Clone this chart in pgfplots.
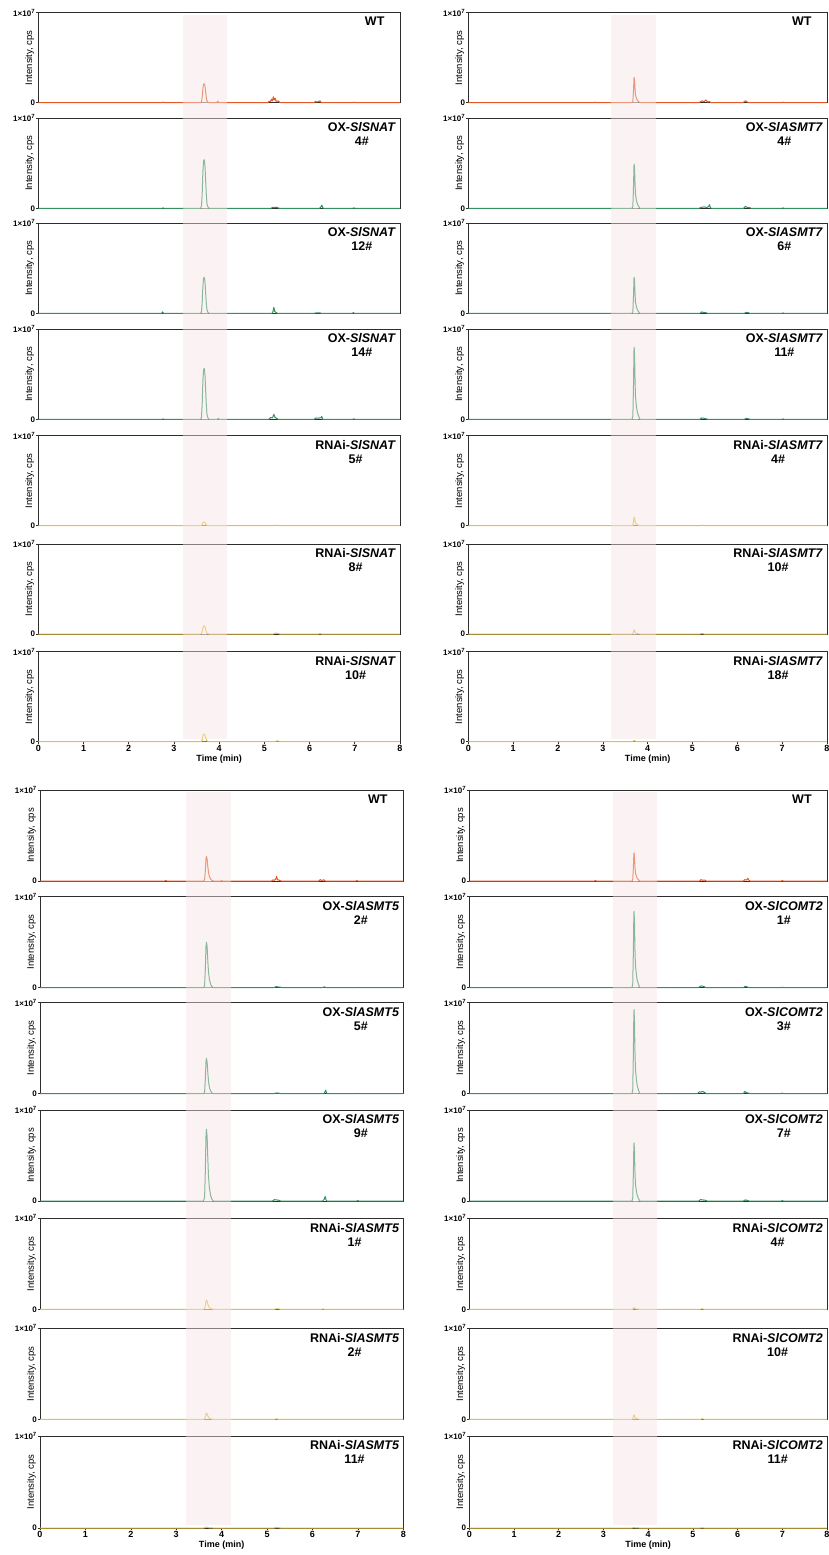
\documentclass[border=0pt]{standalone}
\usepackage{fontspec}
\setmainfont{Liberation Sans}
\usepackage{pgfplots}
\pgfplotsset{compat=1.18}
\definecolor{cor}{RGB}{228,88,38}
\definecolor{cgr}{RGB}{50,145,95}
\definecolor{cye}{RGB}{232,190,60}
\definecolor{shadec}{RGB}{246,228,228}
\definecolor{framec}{RGB}{45,45,45}
\pgfplotsset{
  chrom/.style={scale only axis, anchor=north west,
    xmin=0, xmax=8, ymin=0, ymax=1, clip=false,
    axis line style={line width=0.9pt, draw=framec},
    ytick={0,1}, yticklabels={0,{1×10\textsuperscript{7}}},
    xtick=\empty, xtick pos=bottom, ytick pos=left,
    tick align=outside, major tick length=2pt,
    tick style={line width=0.6pt, draw=framec},
    yticklabel style={font=\fontsize{8}{9}\selectfont\bfseries, inner sep=1pt},
    ylabel={Intensity, cps},
    ylabel style={font=\fontsize{9.5}{10}\selectfont, at={(axis description cs:-0.011,0.5)}, anchor=south, inner sep=0pt},
    /pgf/number format/assume math mode=true,
  },
  lastp/.style={xtick={0,1,...,8}, xticklabels={0,1,2,3,4,5,6,7,8},
    xticklabel style={font=\fontsize{9}{10}\selectfont\bfseries, inner sep=1pt},
    xlabel={Time (min)}, xlabel style={font=\fontsize{9}{10}\selectfont\bfseries, inner sep=2pt}},
  tr/.style={line width=1pt, line join=round},
  ib/.style={line width=1pt, black!55},
}
\tikzset{plab/.style={font=\fontsize{12.5}{14}\selectfont\bfseries, align=center, anchor=north, inner sep=0pt}}
\newcommand{\plabel}[1]{\node[plab, anchor=north east] at ([xshift=-4pt]rel axis cs:1,0.951) {#1};}
\newcommand{\wtlabel}{\node[plab] at (rel axis cs:0.93,0.951) {WT};}
\begin{document}
\begin{tikzpicture}
\path[use as bounding box] (0,0) rectangle (828pt,-1555pt);
% ================= TOP LEFT =================
\begin{axis}[chrom, at={(38.3pt,-12.7pt)}, width=361.7pt, height=90pt]
\addplot[tr, cor] coordinates {(0,0)(2.74,0)(2.76,0.006)(2.78,0)(3.59,0)(3.61,0.0105)(3.625,0.063)(3.64,0.158)(3.655,0.204)(3.67,0.21)(3.685,0.189)(3.70,0.126)(3.715,0.063)(3.73,0.021)(3.75,0.006)(3.78,0)(3.95,0)(3.97,0.018)(3.99,0)(5.08,0)(5.1,0.015)(5.13,0.01)(5.16,0.04)(5.18,0.02)(5.2,0.065)(5.22,0.03)(5.24,0.05)(5.26,0.015)(5.3,0.02)(5.34,0.005)(5.37,0)(6.1,0)(6.13,0.015)(6.16,0.008)(6.2,0.012)(6.23,0.022)(6.26,0)(6.96,0)(6.98,0.006)(7.0,0)(8,0)};
\addplot[ib] coordinates {(3.61,0)(3.75,0)};
\wtlabel
\end{axis}
\begin{axis}[chrom, at={(38.3pt,-118.3pt)}, width=361.7pt, height=90pt]
\addplot[tr, cgr] coordinates {(0,0)(2.74,0)(2.76,0.004)(2.78,0)(3.59,0)(3.61,0.027)(3.625,0.162)(3.64,0.405)(3.655,0.524)(3.67,0.54)(3.685,0.486)(3.70,0.324)(3.715,0.162)(3.73,0.054)(3.75,0.016)(3.78,0)(5.15,0)(5.18,0.01)(5.22,0.008)(5.26,0.012)(5.3,0.006)(5.33,0)(6.22,0)(6.25,0.015)(6.27,0.035)(6.29,0.01)(6.31,0)(6.96,0)(6.98,0.006)(7.0,0)(8,0)};
\addplot[ib] coordinates {(3.61,0)(3.75,0)};
\plabel{OX-\textit{SlSNAT}\\4\#}
\end{axis}
\begin{axis}[chrom, at={(38.3pt,-223.3pt)}, width=361.7pt, height=90pt]
\addplot[tr, cgr] coordinates {(0,0)(2.73,0)(2.75,0.016)(2.77,0)(3.59,0)(3.61,0.02)(3.625,0.12)(3.64,0.30)(3.655,0.388)(3.67,0.40)(3.685,0.36)(3.70,0.24)(3.715,0.12)(3.73,0.04)(3.75,0.012)(3.78,0)(5.17,0)(5.19,0.02)(5.21,0.067)(5.23,0.02)(5.26,0.008)(5.29,0)(6.1,0)(6.15,0.005)(6.22,0.006)(6.26,0)(6.95,0)(6.97,0.008)(6.99,0)(8,0)};
\addplot[ib] coordinates {(3.61,0)(3.75,0)};
\plabel{OX-\textit{SlSNAT}\\12\#}
\end{axis}
\begin{axis}[chrom, at={(38.3pt,-329.3pt)}, width=361.7pt, height=90pt]
\addplot[tr, cgr] coordinates {(0,0)(2.74,0)(2.76,0.004)(2.78,0)(3.59,0)(3.61,0.028)(3.625,0.17)(3.64,0.425)(3.655,0.549)(3.67,0.566)(3.685,0.509)(3.70,0.34)(3.715,0.17)(3.73,0.057)(3.75,0.017)(3.78,0)(3.96,0)(3.98,0.01)(4.0,0)(5.1,0)(5.14,0.02)(5.18,0.015)(5.21,0.055)(5.23,0.025)(5.27,0.01)(5.31,0)(6.1,0)(6.14,0.015)(6.2,0.012)(6.25,0.018)(6.27,0.03)(6.29,0)(6.96,0)(6.98,0.005)(7.0,0)(8,0)};
\addplot[ib] coordinates {(3.61,0)(3.75,0)};
\plabel{OX-\textit{SlSNAT}\\14\#}
\end{axis}
\begin{axis}[chrom, at={(38.3pt,-435.7pt)}, width=361.7pt, height=90pt]
\addplot[tr, cye] coordinates {(0,0)(3.59,0)(3.61,0.002)(3.625,0.012)(3.64,0.03)(3.655,0.039)(3.67,0.04)(3.685,0.036)(3.70,0.024)(3.715,0.012)(3.73,0.004)(3.75,0.001)(3.78,0)(5.18,0)(5.22,0.005)(5.28,0.004)(5.32,0)(6.2,0)(6.22,0.003)(6.24,0)(8,0)};
\addplot[ib] coordinates {(3.63,0)(3.72,0)};
\plabel{RNAi-\textit{SlSNAT}\\5\#}
\end{axis}
\begin{axis}[chrom, at={(38.3pt,-544pt)}, width=361.7pt, height=90pt]
\addplot[tr, cye] coordinates {(0,0)(3.59,0)(3.61,0.0045)(3.625,0.027)(3.64,0.068)(3.655,0.087)(3.67,0.09)(3.685,0.081)(3.70,0.054)(3.715,0.027)(3.73,0.009)(3.75,0.003)(3.78,0)(5.2,0)(5.25,0.01)(5.3,0.006)(5.34,0)(6.2,0)(6.23,0.004)(6.26,0)(8,0)};
\addplot[ib] coordinates {(3.62,0)(3.73,0)};
\plabel{RNAi-\textit{SlSNAT}\\8\#}
\end{axis}
\begin{axis}[chrom, lastp, at={(38.3pt,-651.7pt)}, width=361.7pt, height=90pt]
\addplot[tr, cye] coordinates {(0,0)(3.59,0)(3.61,0.004)(3.625,0.026)(3.64,0.064)(3.655,0.082)(3.67,0.085)(3.685,0.077)(3.70,0.051)(3.715,0.026)(3.73,0.0085)(3.75,0.003)(3.78,0)(5.22,0)(5.28,0.008)(5.34,0.004)(5.38,0)(8,0)};
\addplot[ib] coordinates {(3.62,0)(3.73,0)};
\plabel{RNAi-\textit{SlSNAT}\\10\#}
\fill[shadec, opacity=0.45] (axis cs:3.2,0.03) rectangle (axis cs:4.18,8.08);
\end{axis}
% ================= TOP RIGHT =================
\begin{axis}[chrom, at={(468.3pt,-12.7pt)}, width=358.7pt, height=90pt]
\addplot[tr, cor] coordinates {(0,0)(2.81,0)(2.83,0.006)(2.85,0)(3.65,0)(3.67,0.011)(3.685,0.14)(3.695,0.266)(3.70,0.28)(3.71,0.238)(3.72,0.14)(3.73,0.084)(3.75,0.05)(3.77,0.028)(3.80,0.011)(3.83,0)(5.15,0)(5.18,0.012)(5.22,0.02)(5.26,0.01)(5.3,0.03)(5.34,0.008)(5.38,0.012)(5.41,0)(6.13,0)(6.16,0.015)(6.19,0.02)(6.22,0.008)(6.25,0)(7.0,0)(7.02,0.006)(7.04,0)(8,0)};
\addplot[ib] coordinates {(3.67,0)(3.79,0)};
\wtlabel
\end{axis}
\begin{axis}[chrom, at={(468.3pt,-118.3pt)}, width=358.7pt, height=90pt]
\addplot[tr, cgr] coordinates {(0,0)(3.65,0)(3.67,0.02)(3.685,0.245)(3.695,0.466)(3.70,0.49)(3.71,0.417)(3.72,0.245)(3.73,0.147)(3.75,0.088)(3.77,0.049)(3.80,0.02)(3.83,0)(5.15,0)(5.2,0.012)(5.26,0.015)(5.32,0.01)(5.36,0.02)(5.38,0.04)(5.4,0.005)(5.43,0)(6.14,0)(6.18,0.02)(6.22,0.01)(6.28,0.006)(6.31,0)(7.0,0)(7.02,0.005)(7.04,0)(8,0)};
\addplot[ib] coordinates {(3.67,0)(3.79,0)};
\plabel{OX-\textit{SlASMT7}\\4\#}
\end{axis}
\begin{axis}[chrom, at={(468.3pt,-223.3pt)}, width=358.7pt, height=90pt]
\addplot[tr, cgr] coordinates {(0,0)(3.65,0)(3.67,0.016)(3.685,0.2)(3.695,0.38)(3.70,0.40)(3.71,0.34)(3.72,0.2)(3.73,0.12)(3.75,0.072)(3.77,0.04)(3.80,0.016)(3.83,0)(5.17,0)(5.2,0.015)(5.25,0.01)(5.3,0.006)(5.34,0)(6.16,0)(6.2,0.01)(6.25,0.006)(6.28,0)(7.0,0)(7.02,0.004)(7.04,0)(8,0)};
\addplot[ib] coordinates {(3.67,0)(3.79,0)};
\plabel{OX-\textit{SlASMT7}\\6\#}
\end{axis}
\begin{axis}[chrom, at={(468.3pt,-329.3pt)}, width=358.7pt, height=90pt]
\addplot[tr, cgr] coordinates {(0,0)(3.65,0)(3.67,0.032)(3.685,0.4)(3.695,0.76)(3.70,0.80)(3.71,0.68)(3.72,0.4)(3.73,0.24)(3.75,0.144)(3.77,0.08)(3.80,0.032)(3.83,0)(5.17,0)(5.2,0.015)(5.25,0.012)(5.3,0.006)(5.34,0)(6.16,0)(6.2,0.01)(6.25,0.005)(6.28,0)(7.0,0)(7.02,0.004)(7.04,0)(8,0)};
\addplot[ib] coordinates {(3.67,0)(3.79,0)};
\plabel{OX-\textit{SlASMT7}\\11\#}
\end{axis}
\begin{axis}[chrom, at={(468.3pt,-435.7pt)}, width=358.7pt, height=90pt]
\addplot[tr, cye] coordinates {(0,0)(3.65,0)(3.67,0.004)(3.685,0.048)(3.695,0.091)(3.70,0.096)(3.71,0.082)(3.72,0.048)(3.73,0.029)(3.75,0.017)(3.77,0.01)(3.80,0.004)(3.83,0)(5.17,0)(5.2,0.005)(5.25,0.003)(5.3,0)(8,0)};
\addplot[ib] coordinates {(3.68,0)(3.77,0)};
\plabel{RNAi-\textit{SlASMT7}\\4\#}
\end{axis}
\begin{axis}[chrom, at={(468.3pt,-544pt)}, width=358.7pt, height=90pt]
\addplot[tr, cye] coordinates {(0,0)(3.65,0)(3.67,0.002)(3.685,0.022)(3.695,0.043)(3.70,0.045)(3.71,0.038)(3.72,0.022)(3.73,0.014)(3.75,0.008)(3.77,0.0045)(3.80,0.002)(3.83,0)(5.17,0)(5.21,0.006)(5.26,0)(8,0)};
\addplot[ib] coordinates {(3.68,0)(3.77,0)};
\plabel{RNAi-\textit{SlASMT7}\\10\#}
\end{axis}
\begin{axis}[chrom, lastp, at={(468.3pt,-651.7pt)}, width=358.7pt, height=90pt]
\addplot[tr, cye] coordinates {(0,0)(3.65,0)(3.685,0.006)(3.695,0.011)(3.70,0.012)(3.71,0.01)(3.72,0.006)(3.73,0.004)(3.75,0.002)(3.77,0.001)(3.83,0)(5.17,0)(5.21,0.004)(5.26,0)(8,0)};
\plabel{RNAi-\textit{SlASMT7}\\18\#}
\fill[shadec, opacity=0.45] (axis cs:3.18,0.03) rectangle (axis cs:4.18,8.08);
\end{axis}
% ================= BOTTOM LEFT =================
\begin{axis}[chrom, at={(40pt,-790pt)}, width=363.3pt, height=91pt]
\addplot[tr, cor] coordinates {(0,0)(2.75,0)(2.77,0.006)(2.79,0)(3.60,0)(3.625,0.0135)(3.64,0.108)(3.655,0.243)(3.665,0.27)(3.68,0.243)(3.695,0.162)(3.71,0.095)(3.73,0.049)(3.76,0.019)(3.79,0.005)(3.82,0)(3.98,0)(4.0,0.005)(4.02,0)(5.1,0)(5.13,0.012)(5.16,0.008)(5.19,0.02)(5.21,0.05)(5.23,0.015)(5.27,0.008)(5.31,0)(6.14,0)(6.17,0.015)(6.2,0.006)(6.25,0.013)(6.28,0)(6.96,0)(6.98,0.005)(7.0,0)(8,0)};
\addplot[ib] coordinates {(3.62,0)(3.78,0)};
\wtlabel
\end{axis}
\begin{axis}[chrom, at={(40pt,-896.7pt)}, width=363.3pt, height=91pt]
\addplot[tr, cgr] coordinates {(0,0)(3.60,0)(3.625,0.025)(3.64,0.2)(3.655,0.45)(3.665,0.5)(3.68,0.45)(3.695,0.3)(3.71,0.175)(3.73,0.09)(3.76,0.035)(3.79,0.01)(3.82,0)(5.15,0)(5.2,0.012)(5.25,0.008)(5.3,0.005)(5.33,0)(6.22,0)(6.26,0.01)(6.3,0)(6.98,0)(7.0,0.005)(7.02,0)(8,0)};
\addplot[ib] coordinates {(3.62,0)(3.78,0)};
\plabel{OX-\textit{SlASMT5}\\2\#}
\end{axis}
\begin{axis}[chrom, at={(40pt,-1002.7pt)}, width=363.3pt, height=91pt]
\addplot[tr, cgr] coordinates {(0,0)(3.60,0)(3.625,0.0195)(3.64,0.156)(3.655,0.351)(3.665,0.39)(3.68,0.351)(3.695,0.234)(3.71,0.137)(3.73,0.07)(3.76,0.027)(3.79,0.008)(3.82,0)(5.15,0)(5.2,0.008)(5.26,0.006)(5.3,0)(6.25,0)(6.27,0.015)(6.29,0.04)(6.31,0.01)(6.33,0)(6.98,0)(7.0,0.005)(7.02,0)(8,0)};
\addplot[ib] coordinates {(3.62,0)(3.78,0)};
\plabel{OX-\textit{SlASMT5}\\5\#}
\end{axis}
\begin{axis}[chrom, at={(40pt,-1110pt)}, width=363.3pt, height=91pt]
\addplot[tr, cgr] coordinates {(0,0)(3.60,0)(3.625,0.04)(3.64,0.316)(3.655,0.711)(3.665,0.79)(3.68,0.711)(3.695,0.474)(3.71,0.277)(3.73,0.142)(3.76,0.055)(3.79,0.016)(3.82,0)(5.12,0)(5.16,0.015)(5.2,0.012)(5.25,0.01)(5.3,0)(6.22,0)(6.26,0.02)(6.28,0.05)(6.3,0.01)(6.32,0)(6.98,0)(7.0,0.006)(7.02,0)(8,0)};
\addplot[ib] coordinates {(3.62,0)(3.78,0)};
\plabel{OX-\textit{SlASMT5}\\9\#}
\end{axis}
\begin{axis}[chrom, at={(40pt,-1218.3pt)}, width=363.3pt, height=91pt]
\addplot[tr, cye] coordinates {(0,0)(3.60,0)(3.625,0.005)(3.64,0.04)(3.655,0.09)(3.665,0.1)(3.68,0.09)(3.695,0.06)(3.71,0.035)(3.73,0.018)(3.76,0.007)(3.79,0.002)(3.82,0)(5.17,0)(5.2,0.006)(5.25,0.004)(5.3,0)(6.2,0)(6.23,0.003)(6.26,0)(8,0)};
\addplot[ib] coordinates {(3.63,0)(3.76,0)};
\plabel{RNAi-\textit{SlASMT5}\\1\#}
\end{axis}
\begin{axis}[chrom, at={(40pt,-1328.3pt)}, width=363.3pt, height=91pt]
\addplot[tr, cye] coordinates {(0,0)(3.60,0)(3.625,0.003)(3.64,0.026)(3.655,0.059)(3.665,0.066)(3.68,0.059)(3.695,0.04)(3.71,0.023)(3.73,0.012)(3.76,0.005)(3.79,0.001)(3.82,0)(5.17,0)(5.2,0.004)(5.25,0)(8,0)};
\addplot[ib] coordinates {(3.63,0)(3.76,0)};
\plabel{RNAi-\textit{SlASMT5}\\2\#}
\end{axis}
\begin{axis}[chrom, lastp, at={(40pt,-1436pt)}, width=363.3pt, height=92pt]
\addplot[tr, cye] coordinates {(0,0)(3.60,0)(3.64,0.004)(3.655,0.009)(3.665,0.01)(3.68,0.009)(3.695,0.006)(3.71,0.0035)(3.73,0.002)(3.76,0.001)(3.82,0)(5.15,0)(5.2,0.004)(5.25,0.003)(5.3,0)(8,0)};
\plabel{RNAi-\textit{SlASMT5}\\11\#}
\fill[shadec, opacity=0.45] (axis cs:3.21,0.03) rectangle (axis cs:4.2,8.0);
\end{axis}
% ================= BOTTOM RIGHT =================
\begin{axis}[chrom, at={(469.3pt,-790pt)}, width=357.7pt, height=91pt]
\addplot[tr, cor] coordinates {(0,0)(2.8,0)(2.82,0.006)(2.84,0)(3.635,0)(3.655,0.012)(3.67,0.155)(3.68,0.295)(3.685,0.31)(3.695,0.264)(3.705,0.155)(3.715,0.093)(3.735,0.056)(3.755,0.031)(3.785,0.012)(3.815,0)(5.15,0)(5.18,0.015)(5.22,0.008)(5.27,0.01)(5.3,0)(6.13,0)(6.16,0.015)(6.2,0.01)(6.23,0.03)(6.25,0.01)(6.28,0)(6.98,0)(7.0,0.005)(7.02,0)(8,0)};
\addplot[ib] coordinates {(3.655,0)(3.78,0)};
\wtlabel
\end{axis}
\begin{axis}[chrom, at={(469.3pt,-896.7pt)}, width=357.7pt, height=91pt]
\addplot[tr, cgr] coordinates {(0,0)(3.635,0)(3.655,0.034)(3.67,0.42)(3.68,0.798)(3.685,0.84)(3.695,0.714)(3.705,0.42)(3.715,0.252)(3.735,0.151)(3.755,0.084)(3.785,0.034)(3.815,0)(5.13,0)(5.16,0.015)(5.2,0.02)(5.25,0.012)(5.3,0)(6.13,0)(6.17,0.015)(6.22,0.008)(6.26,0)(6.98,0)(7.0,0.006)(7.02,0)(8,0)};
\addplot[ib] coordinates {(3.655,0)(3.78,0)};
\plabel{OX-\textit{SlCOMT2}\\1\#}
\end{axis}
\begin{axis}[chrom, at={(469.3pt,-1002.7pt)}, width=357.7pt, height=91pt]
\addplot[tr, cgr] coordinates {(0,0)(3.635,0)(3.655,0.037)(3.67,0.463)(3.68,0.879)(3.685,0.925)(3.695,0.786)(3.705,0.463)(3.715,0.278)(3.735,0.167)(3.755,0.093)(3.785,0.037)(3.815,0)(3.98,0)(4.0,0.004)(4.02,0)(5.1,0)(5.14,0.02)(5.18,0.018)(5.22,0.025)(5.26,0.015)(5.3,0)(6.13,0)(6.16,0.025)(6.2,0.012)(6.25,0.006)(6.28,0)(6.98,0)(7.0,0.008)(7.02,0)(8,0)};
\addplot[ib] coordinates {(3.655,0)(3.78,0)};
\plabel{OX-\textit{SlCOMT2}\\3\#}
\end{axis}
\begin{axis}[chrom, at={(469.3pt,-1110pt)}, width=357.7pt, height=91pt]
\addplot[tr, cgr] coordinates {(0,0)(3.635,0)(3.655,0.026)(3.67,0.32)(3.68,0.608)(3.685,0.64)(3.695,0.544)(3.705,0.32)(3.715,0.192)(3.735,0.115)(3.755,0.064)(3.785,0.026)(3.815,0)(5.13,0)(5.17,0.015)(5.22,0.012)(5.28,0.008)(5.32,0)(6.13,0)(6.17,0.012)(6.22,0.006)(6.26,0)(6.98,0)(7.0,0.005)(7.02,0)(8,0)};
\addplot[ib] coordinates {(3.655,0)(3.78,0)};
\plabel{OX-\textit{SlCOMT2}\\7\#}
\end{axis}
\begin{axis}[chrom, at={(469.3pt,-1218.3pt)}, width=357.7pt, height=91pt]
\addplot[tr, cye] coordinates {(0,0)(3.635,0)(3.655,0.001)(3.67,0.01)(3.68,0.019)(3.685,0.02)(3.695,0.017)(3.705,0.01)(3.715,0.006)(3.735,0.004)(3.755,0.002)(3.785,0.001)(3.815,0)(5.17,0)(5.2,0.005)(5.25,0)(8,0)};
\plabel{RNAi-\textit{SlCOMT2}\\4\#}
\end{axis}
\begin{axis}[chrom, at={(469.3pt,-1328.3pt)}, width=357.7pt, height=91pt]
\addplot[tr, cye] coordinates {(0,0)(3.635,0)(3.655,0.002)(3.67,0.025)(3.68,0.048)(3.685,0.05)(3.695,0.043)(3.705,0.025)(3.715,0.015)(3.735,0.009)(3.755,0.005)(3.785,0.002)(3.815,0)(5.17,0)(5.21,0.005)(5.26,0)(8,0)};
\addplot[ib] coordinates {(3.665,0)(3.76,0)};
\plabel{RNAi-\textit{SlCOMT2}\\10\#}
\end{axis}
\begin{axis}[chrom, lastp, at={(469.3pt,-1436pt)}, width=357.7pt, height=92pt]
\addplot[tr, cye] coordinates {(0,0)(3.635,0)(3.67,0.0025)(3.68,0.005)(3.685,0.005)(3.695,0.004)(3.705,0.0025)(3.715,0.0015)(3.735,0.001)(3.815,0)(5.17,0)(5.2,0.003)(5.25,0)(8,0)};
\plabel{RNAi-\textit{SlCOMT2}\\11\#}
\fill[shadec, opacity=0.45] (axis cs:3.21,0.03) rectangle (axis cs:4.19,8.0);
\end{axis}
\end{tikzpicture}
\end{document}
